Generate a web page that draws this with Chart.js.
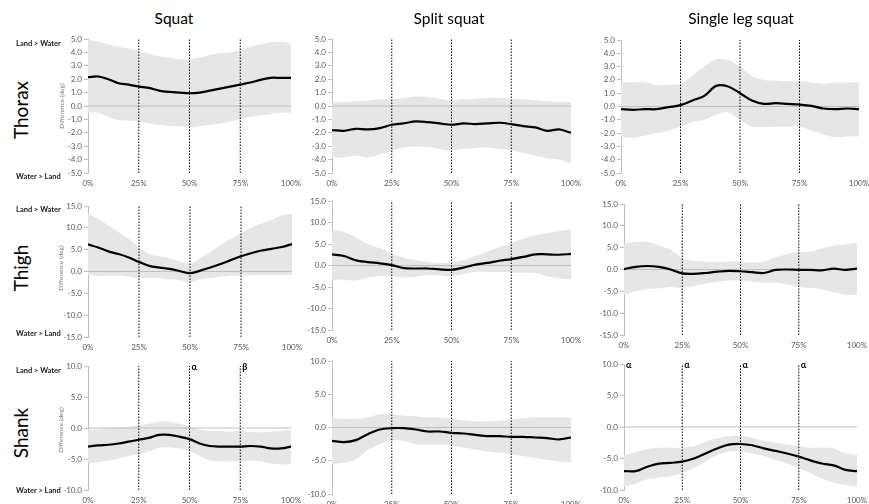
<!DOCTYPE html>
<html>
<head>
<meta charset="utf-8">
<script src="https://cdn.jsdelivr.net/npm/chart.js@4.4.1/dist/chart.umd.min.js"></script>
<style>
  body { margin:0; width:869px; height:504px; background:#fff; position:relative; overflow:hidden; font-family:Lato, "Open Sans", sans-serif; }
  canvas { position:absolute; }
  .title { position:absolute; font-size:15.5px; color:#000; transform:translate(-50%,-50%); white-space:nowrap; }
  .row { position:absolute; font-size:19px; color:#000; transform:translate(-50%,-50%) rotate(-90deg); white-space:nowrap; }
  .dir { position:absolute; font-size:7.5px; font-weight:bold; color:#1a1a1a; white-space:nowrap; transform:translateY(-50%); }
  .ytitle { position:absolute; font-size:6.5px; color:#808080; transform:translate(-50%,-50%) rotate(-90deg); white-space:nowrap; }
</style>
</head>
<body>
<script>
// Percent of movement cycle at which each value was taken
const pct = [0,5,10,15,20,25,30,35,40,45,50,55,60,65,70,75,80,85,90,95,100];
const phaseMarks = [25, 50, 75];
const xTickLabels = ['0%','25%','50%','75%','100%'];

const exercises = ['Squat', 'Split squat', 'Single leg squat'];
const segments = ['Thorax', 'Thigh', 'Shank'];

// Thorax: mean difference and band limits (deg)
const thoraxSquatMean  = [2.15,2.2,2.0,1.7,1.6,1.45,1.35,1.15,1.05,1.0,0.95,1.0,1.15,1.3,1.45,1.6,1.75,1.95,2.1,2.1,2.1];
const thoraxSquatUpper = [4.9,4.8,4.6,4.4,4.3,4.1,3.9,3.7,3.6,3.5,3.5,3.6,3.8,3.95,4.0,4.2,4.4,4.6,4.75,4.8,4.7];
const thoraxSquatLower = [-0.5,-0.5,-0.8,-1.05,-1.1,-1.15,-1.3,-1.4,-1.5,-1.5,-1.6,-1.5,-1.4,-1.3,-1.15,-1.0,-0.8,-0.7,-0.6,-0.5,-0.5];

const thoraxSplitMean  = [-1.8,-1.85,-1.7,-1.75,-1.65,-1.4,-1.3,-1.15,-1.2,-1.3,-1.4,-1.3,-1.35,-1.3,-1.25,-1.35,-1.5,-1.6,-1.85,-1.75,-2.0];
const thoraxSplitUpper = [0.25,0.3,0.35,0.4,0.5,0.5,0.6,0.7,0.65,0.55,0.4,0.5,0.55,0.6,0.6,0.55,0.5,0.45,0.35,0.3,0.3];
const thoraxSplitLower = [-3.8,-3.85,-3.7,-3.85,-3.6,-3.35,-3.1,-3.0,-3.05,-3.2,-3.3,-3.2,-3.15,-3.1,-3.2,-3.3,-3.5,-3.7,-3.9,-4.0,-4.3];

const thoraxSingleMean  = [-0.2,-0.25,-0.2,-0.2,-0.05,0.1,0.45,0.8,1.55,1.5,1.0,0.45,0.2,0.25,0.2,0.15,0.05,-0.15,-0.2,-0.15,-0.2];
const thoraxSingleUpper = [1.85,1.8,1.85,1.6,1.65,1.7,2.3,3.0,3.55,3.5,3.0,2.3,2.0,1.95,1.9,1.9,1.8,1.7,1.8,1.8,1.85];
const thoraxSingleLower = [-2.3,-2.35,-2.2,-2.0,-1.8,-1.5,-1.15,-1.0,-0.6,-0.45,-1.0,-1.5,-1.55,-1.5,-1.5,-1.5,-1.8,-2.1,-2.3,-2.25,-2.25];

// Thigh
const thighSquatMean  = [6.2,5.5,4.6,4.0,3.2,2.2,1.3,0.9,0.6,0.1,-0.4,0.2,0.9,1.7,2.6,3.5,4.2,4.8,5.2,5.6,6.3];
const thighSquatUpper = [13.3,12.0,10.5,9.0,7.5,5.5,4.0,3.5,3.0,2.3,1.8,3.0,4.5,6.0,7.5,8.8,10.0,11.0,11.8,12.8,13.3];
const thighSquatLower = [-0.8,-1.0,-1.0,-1.0,-1.2,-1.5,-1.5,-1.5,-1.8,-2.0,-2.5,-1.8,-1.5,-1.2,-1.0,-0.9,-0.8,-0.8,-0.8,-0.8,-0.8];

const thighSplitMean  = [2.6,2.2,1.2,0.8,0.5,0.1,-0.6,-0.7,-0.7,-0.9,-1.0,-0.5,0.2,0.6,1.1,1.5,2.0,2.6,2.6,2.5,2.7];
const thighSplitUpper = [8.3,7.8,6.5,5.0,4.0,2.8,1.8,1.2,0.8,0.6,0.7,1.2,2.2,3.2,4.3,5.2,6.2,7.0,7.5,8.0,8.4];
const thighSplitLower = [-3.3,-3.3,-3.5,-2.8,-2.5,-2.5,-2.8,-2.6,-2.2,-2.3,-2.5,-2.0,-1.5,-1.5,-1.5,-1.6,-1.7,-1.8,-2.5,-3.0,-3.2];

const thighSingleMean  = [0.1,0.6,0.8,0.6,0.0,-0.9,-1.0,-0.8,-0.5,-0.3,-0.4,-0.6,-0.8,-0.1,0.0,-0.1,-0.1,-0.2,0.2,-0.1,0.2];
const thighSingleUpper = [6.0,6.3,6.3,5.5,4.5,2.5,2.0,1.8,1.8,1.8,1.8,1.6,1.8,2.8,3.5,4.0,4.1,4.8,5.5,5.7,6.1];
const thighSingleLower = [-5.8,-5.0,-4.5,-4.3,-4.0,-4.2,-3.8,-3.2,-2.8,-2.5,-2.5,-2.8,-3.0,-3.0,-3.5,-4.0,-4.2,-4.5,-5.2,-5.7,-5.8];

// Shank
const shankSquatMean  = [-3.0,-2.8,-2.7,-2.5,-2.2,-1.9,-1.6,-1.1,-1.1,-1.4,-1.8,-2.5,-2.9,-3.0,-3.0,-3.0,-2.9,-3.0,-3.3,-3.3,-3.0];
const shankSquatUpper = [-0.3,-0.2,0.0,0.1,0.2,0.4,0.7,1.0,1.0,0.7,0.3,-0.3,-0.5,-0.5,-0.6,-0.5,-0.6,-0.7,-0.6,-0.5,-0.3];
const shankSquatLower = [-5.7,-5.5,-5.2,-4.9,-4.5,-4.2,-3.8,-3.2,-3.1,-3.3,-3.7,-4.5,-5.2,-5.4,-5.4,-5.4,-5.3,-5.4,-5.7,-5.9,-5.8];

const shankSplitMean  = [-2.0,-2.2,-1.9,-1.0,-0.3,-0.1,-0.1,-0.3,-0.6,-0.6,-0.8,-0.9,-1.1,-1.3,-1.3,-1.4,-1.4,-1.5,-1.6,-1.8,-1.5];
const shankSplitUpper = [1.4,1.3,1.3,1.5,2.0,2.0,1.8,1.7,1.5,1.5,1.3,1.1,0.9,0.9,1.0,1.2,1.4,1.5,1.5,1.5,1.5];
const shankSplitLower = [-5.5,-5.3,-4.8,-3.4,-2.5,-2.0,-2.0,-2.5,-2.6,-2.6,-2.7,-3.0,-3.3,-3.6,-3.8,-4.0,-4.3,-4.6,-4.9,-5.1,-5.3];

const shankSingleMean  = [-7.0,-7.0,-6.3,-5.8,-5.7,-5.5,-5.0,-4.2,-3.4,-2.8,-2.7,-2.9,-3.4,-3.8,-4.2,-4.7,-5.3,-5.8,-6.1,-6.8,-7.0];
const shankSingleUpper = [-4.5,-4.0,-3.5,-3.3,-3.3,-3.3,-3.0,-2.4,-1.8,-1.5,-1.4,-1.7,-2.2,-2.5,-2.8,-3.0,-3.3,-3.3,-3.4,-4.2,-4.4];
const shankSingleLower = [-9.4,-9.0,-8.3,-8.0,-7.8,-7.3,-6.5,-5.5,-4.5,-3.9,-3.9,-4.2,-4.6,-5.2,-5.8,-6.5,-7.3,-8.2,-8.8,-9.2,-9.5];

// Axis ranges per segment row
const yRanges = [
  { min: -5,  max: 5,  step: 1 },
  { min: -15, max: 15, step: 5 },
  { min: -10, max: 10, step: 5 }
];

// Significance markers on the shank panels
const shankSquatMarks  = [{ x: 50, text: 'α' }, { x: 75, text: 'β' }];
const shankSingleMarks = [{ x: 0, text: 'α' }, { x: 25, text: 'α' }, { x: 50, text: 'α' }, { x: 75, text: 'α' }];

const series = [
  [[thoraxSquatMean, thoraxSquatUpper, thoraxSquatLower, []],
   [thoraxSplitMean, thoraxSplitUpper, thoraxSplitLower, []],
   [thoraxSingleMean, thoraxSingleUpper, thoraxSingleLower, []]],
  [[thighSquatMean, thighSquatUpper, thighSquatLower, []],
   [thighSplitMean, thighSplitUpper, thighSplitLower, []],
   [thighSingleMean, thighSingleUpper, thighSingleLower, []]],
  [[shankSquatMean, shankSquatUpper, shankSquatLower, shankSquatMarks],
   [shankSplitMean, shankSplitUpper, shankSplitLower, []],
   [shankSingleMean, shankSingleUpper, shankSingleLower, shankSingleMarks]]
];

// Plot-area rectangles on the page [left, top, right, bottom]
const plotRects = [
  [[88, 39, 291, 173], [332, 39, 571, 173], [621, 40, 859, 173]],
  [[88, 206, 292, 337], [332, 201, 571, 330], [624, 204, 857, 335]],
  [[88, 366, 291, 490], [332, 361, 571, 494], [624, 364, 857, 490]]
];

const AXIS_W = 44, PAD_TOP = 8, PAD_RIGHT = 22, X_H = 20;
const GREY = '#bfbfbf', TICK_TXT = '#595959', BAND = '#e6e6e6';

const greekPlugin = {
  id: 'greek',
  afterDatasetsDraw(chart, args, opts) {
    const marks = opts.marks || [];
    if (!marks.length) return;
    const { ctx, chartArea, scales } = chart;
    ctx.save();
    ctx.font = 'bold 9px Lato, "DejaVu Sans", sans-serif';
    ctx.fillStyle = '#000';
    ctx.textBaseline = 'middle';
    ctx.textAlign = 'left';
    marks.forEach(m => {
      ctx.fillText(m.text, scales.x.getPixelForValue(m.x) + 2, chartArea.top + 1);
    });
    ctx.restore();
  }
};

function pts(values) { return values.map((v, i) => ({ x: pct[i], y: v })); }

function phaseLinePoints(range) {
  const out = [];
  phaseMarks.forEach(p => {
    out.push({ x: p, y: range.min }, { x: p, y: range.max }, { x: p, y: null });
  });
  return out;
}

function addText(cls, text, left, top) {
  const d = document.createElement('div');
  d.className = cls;
  d.textContent = text;
  d.style.left = left + 'px';
  d.style.top = top + 'px';
  document.body.appendChild(d);
}

for (let r = 0; r < 3; r++) {
  for (let c = 0; c < 3; c++) {
    const [L, T, R, B] = plotRects[r][c];
    const range = yRanges[r];
    const [mean, upper, lower, marks] = series[r][c];
    const cv = document.createElement('canvas');
    const w = (R - L) + AXIS_W + PAD_RIGHT;
    const h = (B - T) + PAD_TOP + X_H;
    cv.width = w; cv.height = h;
    cv.style.width = w + 'px'; cv.style.height = h + 'px';
    cv.style.left = (L - AXIS_W) + 'px';
    cv.style.top = (T - PAD_TOP) + 'px';
    document.body.appendChild(cv);

    new Chart(cv, {
      type: 'line',
      data: {
        datasets: [
          { data: pts(mean), borderColor: '#000', borderWidth: 2.2, tension: 0.35, pointRadius: 0, fill: false, order: 0 },
          { data: phaseLinePoints(range), borderColor: '#000', borderWidth: 1, borderDash: [1.5, 1.5], pointRadius: 0, spanGaps: false, fill: false, order: 1 },
          { data: [{ x: 0, y: 0 }, { x: 100, y: 0 }], borderColor: GREY, borderWidth: 1, pointRadius: 0, fill: false, order: 2 },
          { data: pts(upper), borderWidth: 0, borderColor: 'rgba(0,0,0,0)', backgroundColor: BAND, tension: 0.35, pointRadius: 0, fill: '+1', order: 3 },
          { data: pts(lower), borderWidth: 0, borderColor: 'rgba(0,0,0,0)', tension: 0.35, pointRadius: 0, fill: false, order: 4 }
        ]
      },
      options: {
        responsive: false,
        animation: false,
        events: [],
        layout: { padding: { top: PAD_TOP, right: PAD_RIGHT, left: 0, bottom: 0 } },
        plugins: {
          legend: { display: false },
          tooltip: { enabled: false },
          greek: { marks: marks }
        },
        scales: {
          x: {
            type: 'linear', min: 0, max: 100,
            afterFit(s) { s.height = X_H; },
            afterBuildTicks(s) { s.ticks = pct.filter(v => v % 25 === 0).map(v => ({ value: v })); },
            grid: { display: false, drawTicks: false },
            border: { display: false },
            ticks: {
              color: TICK_TXT, padding: 6, maxRotation: 0, autoSkip: false,
              font: { family: 'Lato', size: 8 },
              callback: (v) => xTickLabels[v / 25]
            }
          },
          y: {
            min: range.min, max: range.max,
            afterFit(s) { s.width = AXIS_W; },
            grid: { drawOnChartArea: false, color: GREY, tickColor: GREY, tickLength: 4 },
            border: { display: true, color: GREY, width: 1 },
            ticks: {
              stepSize: range.step, autoSkip: false, color: TICK_TXT, padding: 2,
              font: { family: 'Lato', size: 8 },
              callback: (v) => Number(v).toFixed(1)
            }
          }
        }
      },
      plugins: [greekPlugin]
    });
  }
}

// Column headings, row headings and direction notes
const titleX = [174, 449, 741];
exercises.forEach((t, i) => addText('title', t, titleX[i], 18));
const rowCenters = [[20, 110], [20, 268], [20, 433]];
segments.forEach((s, i) => addText('row', s, rowCenters[i][0], rowCenters[i][1]));
const dirTop = [[43, 176], [209, 333], [370, 490]];
dirTop.forEach(([a, b]) => { addText('dir', 'Land > Water', 16, a); addText('dir', 'Water > Land', 16, b); });
const yTitleCenters = [[61, 106], [60, 268], [60, 430]];
yTitleCenters.forEach(([x, y]) => addText('ytitle', 'Difference (deg)', x, y));
</script>
</body>
</html>
